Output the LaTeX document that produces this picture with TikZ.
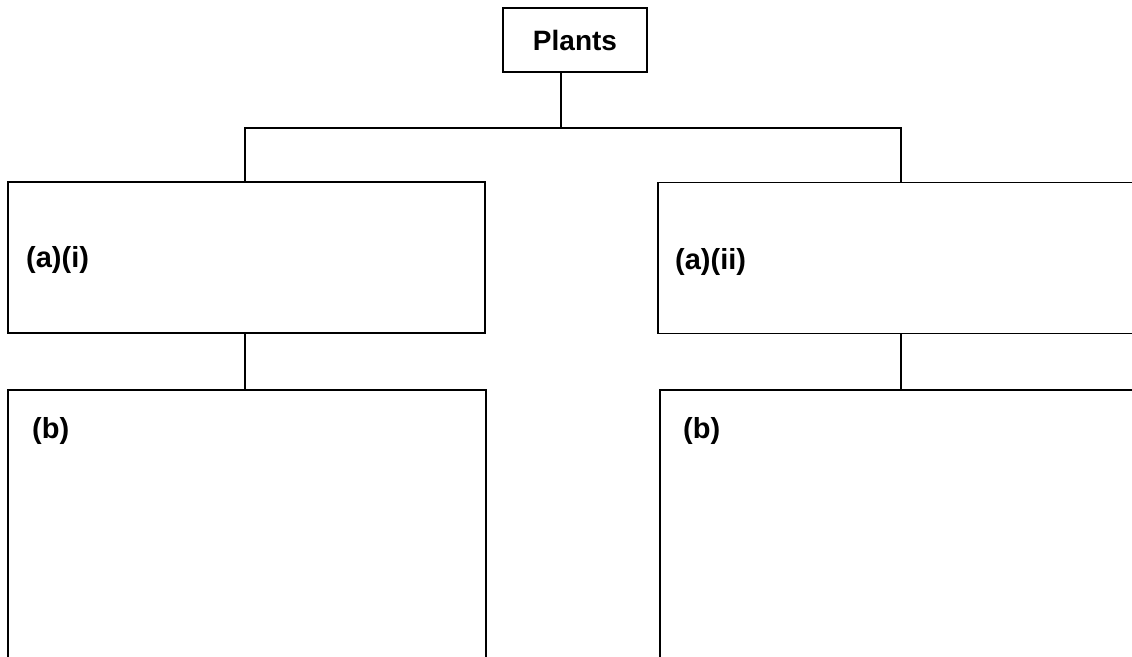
\documentclass[tikz,border=0pt]{standalone}
\usepackage{fontspec}
\setmainfont{Liberation Sans}
\begin{document}
\begin{tikzpicture}[x=1pt,y=-1pt,
  box/.style={draw=black,line width=1.8pt,inner sep=0pt},
  lbl/.style={font=\fontsize{29}{34}\selectfont\bfseries,inner sep=0pt,anchor=west},
  conn/.style={draw=black,line width=1.8pt}]
\useasboundingbox (0,0) rectangle (1132,656);
\fill[white] (0,0) rectangle (1132,656);
\clip (0,0) rectangle (1132,656);
\node[box,minimum width=144pt,minimum height=64pt,font=\fontsize{28}{32}\selectfont\bfseries] (plants) at (575,40) {Plants};
\node[box,minimum width=477pt,minimum height=151pt] (a1) at (246.5,257.5) {};
\node[box,minimum width=486pt,minimum height=151pt] (a2) at (901,258) {};
\node[box,minimum width=478pt,minimum height=300pt] (b1) at (247,540) {};
\node[box,minimum width=484pt,minimum height=300pt] (b2) at (902,540) {};
\node[lbl] (ta1) at (26,260) {(a)(i)};
\node[lbl] (ta2) at (675,262) {(a)(ii)};
\node[lbl] (tb1) at (32,431) {(b)};
\node[lbl] (tb2) at (683,431) {(b)};
\coordinate (j) at (561,128);
\draw[conn] (plants.south -| j) -- (j);
\draw[conn] (a1.north -| 245,0) -- (245,128) -- (901,128) -- (a2.north);
\draw[conn] (a1.south -| 245,0) -- (b1.north -| 245,0);
\draw[conn] (a2.south) -- (b2.north -| a2.south);
\end{tikzpicture}
\end{document}
